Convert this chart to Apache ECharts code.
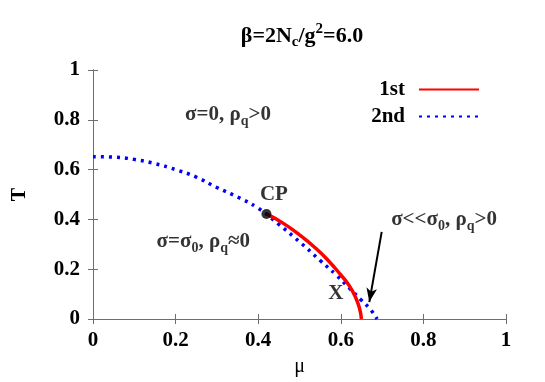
<!DOCTYPE html>
<html>
<head>
<meta charset="utf-8">
<script src="https://cdn.jsdelivr.net/npm/echarts@6/dist/echarts.min.js"></script>
<style>
    html, body { margin: 0; padding: 0; background: #fff; }
    #chart { width: 545px; height: 382px; }
</style>
</head>
<body>
<div id="chart"></div>
<script>
// first order line: mu, T
const firstMu = [0.42, 0.46, 0.50, 0.54, 0.57, 0.60, 0.62, 0.635, 0.645, 0.65]
const firstT = [0.422, 0.385, 0.338, 0.283, 0.234, 0.177, 0.135, 0.09, 0.045, 0]

// second order (crossover) line
const secondMu = [0, 0.05, 0.1, 0.15, 0.2, 0.25, 0.3, 0.35, 0.4, 0.45, 0.5, 0.55, 0.59, 0.62, 0.65, 0.67, 0.688]
const secondT = [0.652, 0.650, 0.641, 0.624, 0.6, 0.57, 0.528, 0.49, 0.445, 0.38, 0.31, 0.235, 0.175, 0.125, 0.075, 0.042, 0]

const cpPoint = [0.42, 0.422]
const arrowFrom = [0.699, 0.35]
const arrowTo = [0.669, 0.068]

const serif = '"Liberation Serif", "DejaVu Serif", serif'

const zip = (xs, ys) => xs.map((x, i) => [x, ys[i]])

const rich = {
    b: { fontFamily: serif, fontWeight: 'bold', fontSize: 21, color: '#000' },
    s: { fontFamily: serif, fontWeight: 'bold', fontSize: 14, color: '#000', padding: [13, 0, 0, 0] }
}

const notes = [
    { value: [0.327, 0.819], text: '{b|σ=0, ρ}{s|q}{b|>0}' },
    { value: [0.267, 0.311], text: '{b|σ=σ}{s|0}{b|, ρ}{s|q}{b|≈0}' },
    { value: [0.438, 0.501], text: '{b|CP}' },
    { value: [0.588, 0.102], text: '{b|X}' },
    { value: [0.85, 0.398], text: '{b|σ<<σ}{s|0}{b|, ρ}{s|q}{b|>0}' }
]

const chart = echarts.init(document.getElementById('chart'))

const frameLine = { lineStyle: { color: '#6e6e6e', width: 1 } }
const innerTick = { show: true, inside: true, length: 5, lineStyle: { color: '#6e6e6e' } }
const tickLabel = { fontFamily: serif, fontWeight: 'bold', fontSize: 21, color: '#000' }

const option = {
    animation: false,
    title: {
        text: 'β=2N{s|c}/g{p|2}=6.0',
        left: 297,
        textAlign: 'center',
        top: 17,
        textStyle: {
            fontFamily: serif, fontWeight: 'bold', fontSize: 22, color: '#000',
            rich: {
                s: { fontFamily: serif, fontWeight: 'bold', fontSize: 15, color: '#000', padding: [13, 0, 0, 0] },
                p: { fontFamily: serif, fontWeight: 'bold', fontSize: 15, color: '#000', padding: [0, 0, 13, 0] }
            }
        }
    },
    grid: { left: 93, right: 39, top: 70, bottom: 58 },
    legend: {
        orient: 'vertical',
        right: 60,
        top: 74,
        align: 'right',
        itemWidth: 60,
        itemHeight: 16,
        itemGap: 6,
        itemStyle: { opacity: 0 },
        textStyle: { fontFamily: serif, fontWeight: 'bold', fontSize: 21, color: '#000', padding: [0, 9, 0, 0] },
        data: ['1st', '2nd']
    },
    xAxis: [
        {
            type: 'value', min: 0, max: 1, interval: 0.2,
            name: 'μ', nameLocation: 'middle', nameGap: 38,
            nameTextStyle: { fontFamily: serif, fontSize: 20, color: '#000' },
            axisLine: frameLine, axisTick: innerTick,
            axisLabel: Object.assign({ margin: 11 }, tickLabel),
            splitLine: { show: false }
        },
        {
            type: 'value', position: 'top', min: 0, max: 1, interval: 0.2,
            axisLine: frameLine, axisTick: innerTick,
            axisLabel: { show: false }, splitLine: { show: false }
        }
    ],
    yAxis: [
        {
            type: 'value', min: 0, max: 1, interval: 0.2,
            name: 'T', nameLocation: 'middle', nameGap: 63,
            nameTextStyle: { fontFamily: serif, fontWeight: 'bold', fontSize: 20, color: '#000' },
            axisLine: { show: true, lineStyle: frameLine.lineStyle }, axisTick: innerTick,
            axisLabel: Object.assign({ margin: 13 }, tickLabel),
            splitLine: { show: false }
        },
        {
            type: 'value', position: 'right', min: 0, max: 1, interval: 0.2,
            axisLine: { show: true, lineStyle: frameLine.lineStyle }, axisTick: innerTick,
            axisLabel: { show: false }, splitLine: { show: false }
        }
    ],
    series: [
        {
            name: '2nd',
            type: 'line',
            symbol: 'none',
            smooth: true,
            color: '#0000ff',
            lineStyle: { color: '#0000ff', width: 3.5, type: [3, 5] },
            data: zip(secondMu, secondT),
            z: 2
        },
        {
            name: '1st',
            type: 'line',
            symbol: 'none',
            smooth: true,
            color: '#ff0000',
            lineStyle: { color: '#ff0000', width: 3.5 },
            data: zip(firstMu, firstT),
            z: 3,
            markLine: {
                silent: true,
                symbol: ['none', 'arrow'],
                symbolSize: [8, 14],
                label: { show: false },
                lineStyle: { color: '#000', width: 2, type: 'solid' },
                data: [[{ coord: arrowFrom }, { coord: arrowTo }]]
            }
        },
        {
            name: 'CP',
            type: 'scatter',
            symbolSize: 10,
            itemStyle: { color: '#000' },
            data: [cpPoint],
            z: 4
        },
        {
            name: 'notes',
            type: 'scatter',
            symbolSize: 0,
            silent: true,
            data: notes.map(n => ({
                value: n.value,
                label: { show: true, position: 'inside', formatter: n.text, rich: rich }
            }))
        }
    ]
}

chart.setOption(option)
</script>
</body>
</html>
